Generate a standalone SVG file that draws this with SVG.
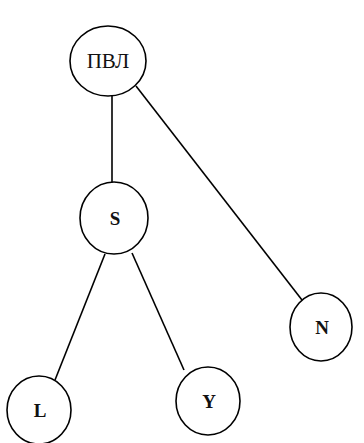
<svg xmlns="http://www.w3.org/2000/svg" width="364" height="443" viewBox="0 0 364 443">
<style>
.n{fill:#fff;stroke:#000;stroke-width:1.6}
.e{stroke:#000;stroke-width:1.6;fill:none}
text{font-family:"Liberation Serif","Times New Roman",serif;font-weight:bold;font-size:19px;text-anchor:middle;fill:#111}
.t{font-weight:normal;font-size:21px}
</style>
<rect width="364" height="443" fill="#fff"/>
<g id="edges">
<line class="e" x1="112" y1="95" x2="112" y2="183"/>
<line class="e" x1="136" y1="86" x2="302" y2="300"/>
<line class="e" x1="105" y1="254" x2="55" y2="380"/>
<line class="e" x1="132" y1="253" x2="184" y2="370"/>
</g>
<g id="pvl"><ellipse class="n" cx="108" cy="61" rx="38" ry="35"/><text class="t" x="108" y="68">ПВЛ</text></g>
<g id="s"><ellipse class="n" cx="114" cy="218" rx="34" ry="36"/><text x="115" y="225">S</text></g>
<g id="nn"><ellipse class="n" cx="321" cy="327" rx="31" ry="34"/><text x="322" y="334">N</text></g>
<g id="l"><ellipse class="n" cx="39" cy="410" rx="32" ry="34"/><text x="40" y="417">L</text></g>
<g id="y"><ellipse class="n" cx="208" cy="401" rx="32" ry="34"/><text x="209" y="408">Y</text></g>
</svg>
